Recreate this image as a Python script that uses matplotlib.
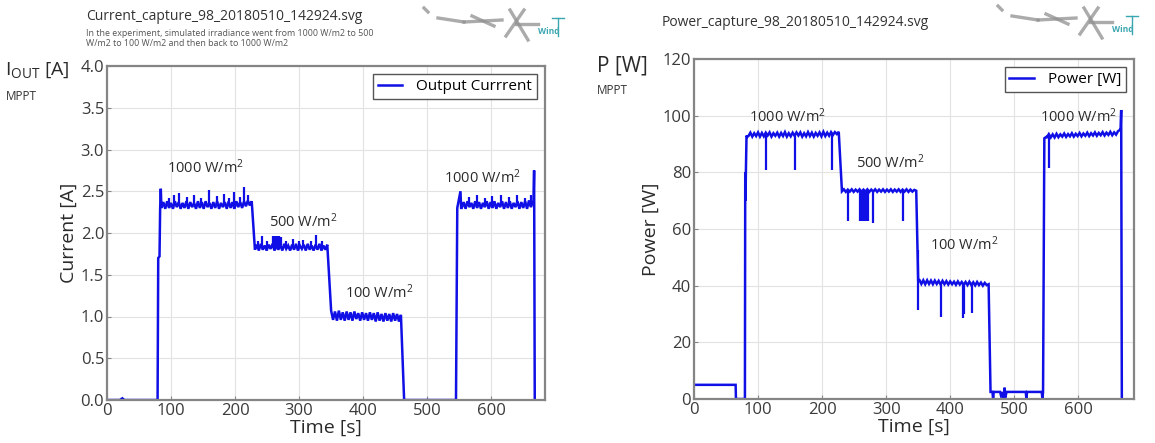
import numpy as np
import matplotlib
matplotlib.use("Agg")
import matplotlib.pyplot as plt
from matplotlib.lines import Line2D

plt.rcParams['font.family'] = ['Open Sans', 'DejaVu Sans']
plt.rcParams['mathtext.fontset'] = 'custom'
plt.rcParams['mathtext.rm'] = 'Open Sans'
plt.rcParams['mathtext.it'] = 'Open Sans'

# ---------------- Current data (A) ----------------
cur_start_t = [0, 20, 24, 27, 79, 80, 82, 83, 84]
cur_start_v = [0.0, 0.0, 0.02, 0.0, 0.0, 1.7, 1.72, 2.3, 2.53]
cur_p1 = [2.30, 2.37, 2.29, 2.38, 2.30, 2.36, 2.29, 2.38, 2.31, 2.37, 2.29, 2.36,
          2.30, 2.38, 2.29, 2.37, 2.31, 2.36, 2.29, 2.38, 2.30, 2.37, 2.29, 2.38,
          2.31, 2.36, 2.29, 2.37, 2.30, 2.38, 2.29, 2.36, 2.31, 2.37, 2.29, 2.38,
          2.30, 2.37, 2.29, 2.38, 2.31, 2.37, 2.30, 2.38, 2.32, 2.39, 2.33, 2.38]
cur_p1_span = (85, 226)
cur_p2 = [1.80, 1.86, 1.79, 1.87, 1.80, 1.85, 1.79, 1.86, 1.81, 1.87, 1.79, 1.85,
          1.80, 1.86, 1.79, 1.87, 1.81, 1.85, 1.79, 1.86, 1.80, 1.87, 1.79, 1.85,
          1.81, 1.86, 1.79, 1.87, 1.80, 1.85, 1.79, 1.86, 1.80, 1.87, 1.79, 1.85,
          1.80, 1.86]
cur_p2_span = (231, 344)
cur_p3 = [1.07, 0.96, 1.06, 0.95, 1.07, 0.96, 1.05, 0.95, 1.06, 0.96, 1.05, 0.95,
          1.06, 0.97, 1.04, 0.95, 1.05, 0.96, 1.04, 0.95, 1.05, 0.96, 1.04, 0.94,
          1.05, 0.95, 1.03, 0.94, 1.04, 0.95, 1.03, 0.94, 1.04, 0.95, 1.03, 0.94,
          1.02]
cur_p3_span = (350, 459)
cur_mid_t = [464, 545, 547, 552, 553]
cur_mid_v = [0.0, 0.0, 2.3, 2.5, 2.3]
cur_p4 = [2.30, 2.37, 2.29, 2.38, 2.31, 2.36, 2.29, 2.38, 2.30, 2.37, 2.29, 2.36,
          2.31, 2.38, 2.29, 2.37, 2.30, 2.38, 2.29, 2.36, 2.31, 2.38, 2.29, 2.37,
          2.30, 2.38, 2.29, 2.36, 2.31, 2.38, 2.29, 2.37, 2.30, 2.38, 2.29, 2.39,
          2.31, 2.38]
cur_p4_span = (554, 665)
cur_end_t = [666, 667, 668]
cur_end_v = [2.35, 2.75, 0.0]
# upward spikes on the current plateaus
cur_spike_t = [97, 104, 113, 125, 136, 147, 160, 171, 183, 190, 199, 207, 214, 220,
               236, 242, 250, 259, 262, 265, 268, 271, 280, 290, 300, 306, 318, 327, 336,
               565, 578, 590, 602, 615, 628, 640, 652, 662]
cur_spike_v = [2.42, 2.45, 2.48, 2.43, 2.46, 2.42, 2.51, 2.44, 2.47, 2.42, 2.49, 2.43, 2.55, 2.45,
               1.90, 1.97, 1.90, 1.96, 1.97, 1.96, 1.97, 1.95, 1.91, 1.93, 1.90, 1.92, 1.90, 1.98, 1.91,
               2.43, 2.45, 2.42, 2.44, 2.46, 2.43, 2.45, 2.42, 2.46]

# ---------------- Power data (W) ----------------
pow_start_t = [0, 65, 65.5, 79.5, 80, 80.5, 81, 82, 83]
pow_start_v = [5.0, 5.0, 0.0, 0.0, 80.0, 70.0, 80.0, 93.0, 92.5]
pow_p1 = [92.8, 94.0, 92.6, 93.8, 92.8, 94.1, 92.6, 93.9, 92.7, 94.0, 93.0, 94.1,
          92.6, 93.8, 92.9, 94.0, 92.6, 93.9, 92.8, 94.2, 92.6, 93.8, 92.7, 94.0,
          92.9, 94.1, 93.0, 94.1, 92.6, 93.8, 92.7, 94.2, 92.8, 94.0, 92.6, 93.9,
          92.9, 94.1, 92.7, 94.3, 92.8, 94.0, 92.9, 94.2, 93.2, 94.2, 93.5, 94.3]
pow_p1_span = (85, 226)
pow_p2 = [73.3, 74.0, 73.1, 73.9, 73.2, 74.0, 73.1, 73.9, 73.2, 74.0, 73.1, 73.9,
          73.2, 74.0, 73.1, 73.9, 73.2, 74.0, 73.1, 73.9, 73.2, 74.0, 73.1, 73.9,
          73.2, 74.0, 73.1, 73.9, 73.2, 74.0, 73.1, 73.9, 73.2, 74.0, 73.1, 73.9,
          73.2, 73.8]
pow_p2_span = (231, 344)
pow_mid1_t = [347, 350]
pow_mid1_v = [73.5, 42.0]
pow_p3 = [42.0, 40.6, 41.9, 40.5, 41.9, 40.6, 41.8, 40.5, 41.8, 40.6, 41.7, 40.4,
          41.7, 40.5, 41.6, 40.4, 41.5, 40.5, 41.4, 40.3, 41.5, 40.4, 41.3, 40.3,
          41.3, 40.2, 41.4, 40.2, 41.2, 40.1, 41.3, 40.2, 41.1, 40.0, 41.0, 40.2]
pow_p3_span = (352, 457)
pow_low_t = [460, 463, 466, 467, 468, 478, 480, 482, 484, 485, 486, 488, 490,
             518, 519, 520, 543, 544, 545, 547, 550]
pow_low_v = [40.5, 2.5, 2.5, 0.0, 2.5, 2.5, 0.5, 2.5, 0.5, 4.0, 0.5, 2.5, 2.5,
             2.5, 0.0, 2.5, 2.5, 0.0, 2.5, 92.0, 92.5]
pow_p4 = [92.4, 93.5, 92.3, 93.4, 92.3, 93.6, 92.4, 93.4, 92.6, 93.7, 92.5, 93.5,
          92.7, 93.8, 92.6, 93.6, 92.8, 93.9, 92.7, 93.7, 92.9, 94.0, 92.8, 93.8,
          93.0, 94.1, 92.9, 93.9, 93.1, 94.2, 93.0, 94.0, 93.2, 94.3, 93.1, 94.1,
          93.3, 94.5, 95.0]
pow_p4_span = (551, 665)
pow_end_t = [666, 667, 668]
pow_end_v = [95.0, 102.0, 0.0]
# downward dips on the power plateaus
pow_dip_t = [112, 158, 215,
             240, 259, 261, 263, 265, 267, 269, 271, 280, 326,
             349, 386, 420, 422, 434,
             555]
pow_dip_v = [81.0, 81.0, 81.0,
             63.0, 63.0, 63.0, 63.0, 63.0, 63.0, 63.0, 63.0, 62.0, 63.0,
             31.5, 29.0, 28.5, 30.0, 30.5,
             81.5]


def build(parts):
    ts, vs = [], []
    for p in parts:
        if isinstance(p[0], tuple):
            span, vals = p
            ts.extend(np.linspace(span[0], span[1], len(vals)))
            vs.extend(vals)
        else:
            ts.extend(p[0])
            vs.extend(p[1])
    return np.array(ts), np.array(vs)


cur_t, cur_v = build([(cur_start_t, cur_start_v), (cur_p1_span, cur_p1),
                      (cur_p2_span, cur_p2), (cur_p3_span, cur_p3),
                      (cur_mid_t, cur_mid_v), (cur_p4_span, cur_p4),
                      (cur_end_t, cur_end_v)])
pow_t, pow_v = build([(pow_start_t, pow_start_v), (pow_p1_span, pow_p1),
                      (pow_p2_span, pow_p2), (pow_mid1_t, pow_mid1_v),
                      (pow_p3_span, pow_p3), (pow_low_t, pow_low_v),
                      (pow_p4_span, pow_p4), (pow_end_t, pow_end_v)])

cur_ann = [("1000 W/m$^2$", 93, 2.78), ("500 W/m$^2$", 253, 2.13),
           ("100 W/m$^2$", 372, 1.28), ("1000 W/m$^2$", 526, 2.66)]
pow_ann = [("1000 W/m$^2$", 86, 99.5), ("500 W/m$^2$", 253, 83.3),
           ("100 W/m$^2$", 369, 54.4), ("1000 W/m$^2$", 540, 99.8)]

W, H = 1155, 443
fig = plt.figure(figsize=(W / 100, H / 100), dpi=100)


def px_axes(l, r, t, b):
    return fig.add_axes([l / W, (H - b) / H, (r - l) / W, (b - t) / H])


BLUE = '#1010e6'
TXT = '#2a2a2a'


def style(ax):
    for s in ax.spines.values():
        s.set_color('#858585')
        s.set_linewidth(1.6)
    ax.grid(True, color='#e2e2e2', lw=0.8)
    ax.set_axisbelow(True)
    ax.tick_params(direction='in', length=3, color='#858585',
                   labelsize=12, labelcolor='#3a3a3a', pad=2)


def draw(ax, t, v, spike_t, spike_v, label):
    ax.plot(t, v, color=BLUE, lw=1.8, label=label, solid_joinstyle='miter')
    base = np.interp(spike_t, t, v)
    ax.vlines(spike_t, base, spike_v, color=BLUE, lw=1.6)


def legend(ax):
    lg = ax.legend(loc='upper right', fontsize=11, fancybox=False, framealpha=1,
                   edgecolor='#555555', handlelength=1.6, handletextpad=0.9,
                   borderpad=0.3, borderaxespad=0.55)
    lg.get_frame().set_linewidth(1.0)


# Left: current
ax1 = px_axes(107, 545, 66, 400)
draw(ax1, cur_t, cur_v, cur_spike_t, cur_spike_v, 'Output Currrent')
ax1.set_xlim(0, 684)
ax1.set_ylim(0, 4.0)
yt1 = [0.0, 0.5, 1.0, 1.5, 2.0, 2.5, 3.0, 3.5, 4.0]
ax1.set_yticks(yt1)
ax1.set_yticklabels([f"{v:.1f}" for v in yt1])
ax1.set_xticks([0, 100, 200, 300, 400, 500, 600])
style(ax1)
ax1.set_xlabel('Time [s]', fontsize=14, color=TXT, labelpad=0)
ax1.set_ylabel('Current [A]', fontsize=14, color=TXT, labelpad=2)
for txt, x, y in cur_ann:
    ax1.text(x, y, txt, fontsize=10.5, color=TXT, va='center', ha='left')
legend(ax1)

# Right: power
ax2 = px_axes(694, 1134, 59, 399)
draw(ax2, pow_t, pow_v, pow_dip_t, pow_dip_v, 'Power [W]')
ax2.set_xlim(0, 687)
ax2.set_ylim(0, 120)
ax2.set_yticks([0, 20, 40, 60, 80, 100, 120])
ax2.set_xticks([0, 100, 200, 300, 400, 500, 600])
style(ax2)
ax2.set_xlabel('Time [s]', fontsize=14, color=TXT, labelpad=0)
ax2.set_ylabel('Power [W]', fontsize=14, color=TXT, labelpad=2)
for txt, x, y in pow_ann:
    ax2.text(x, y, txt, fontsize=10.5, color=TXT, va='center', ha='left')
legend(ax2)

# Header texts
fig.text(86 / W, 1 - 17 / H, 'Current_capture_98_20180510_142924.svg',
         fontsize=10, color='#333333', va='center')
fig.text(86 / W, 1 - 33 / H,
         'In the experiment, simulated irradiance went from 1000 W/m2 to 500',
         fontsize=6.4, color='#555555', va='center')
fig.text(86 / W, 1 - 43 / H, 'W/m2 to 100 W/m2 and then back to 1000 W/m2',
         fontsize=6.4, color='#555555', va='center')
fig.text(5 / W, 1 - 70 / H, r'I$_{\mathrm{OUT}}$ [A]', fontsize=14,
         color=TXT, va='center')
fig.text(6 / W, 1 - 97 / H, 'MPPT', fontsize=8.5, color='#333333', va='center')

fig.text(662 / W, 1 - 23 / H, 'Power_capture_98_20180510_142924.svg',
         fontsize=10, color='#333333', va='center')
fig.text(597 / W, 1 - 66 / H, 'P [W]', fontsize=15, color=TXT, va='center')
fig.text(597 / W, 1 - 91 / H, 'MPPT', fontsize=8.5, color='#333333', va='center')


# Simple logo sketches (grey turbine-like strokes + teal "Wind")
def logo(x0, y0):
    grey = [((0, 2), (4, 6)), ((14, 12), (40, 16)), ((40, 16), (78, 14)),
            ((48, 10), (70, 20)), ((82, 30), (100, 4)), ((86, 4), (104, 34)),
            ((92, 18), (114, 18))]
    for (a, b) in grey:
        fig.add_artist(Line2D([(x0 + a[0]) / W, (x0 + b[0]) / W],
                              [1 - (y0 + a[1]) / H, 1 - (y0 + b[1]) / H],
                              color='#8f8f8f', lw=2.4, alpha=0.75))
    teal = [((134, 12), (134, 30)), ((128, 12), (140, 12))]
    for (a, b) in teal:
        fig.add_artist(Line2D([(x0 + a[0]) / W, (x0 + b[0]) / W],
                              [1 - (y0 + a[1]) / H, 1 - (y0 + b[1]) / H],
                              color='#3aa6b0', lw=1.0))
    fig.text((x0 + 114) / W, 1 - (y0 + 26) / H, 'Wind', fontsize=6,
             color='#3aa6b0', va='center', fontweight='bold')


logo(424, 6)
logo(998, 4)

fig.savefig('out.png', dpi=100)
